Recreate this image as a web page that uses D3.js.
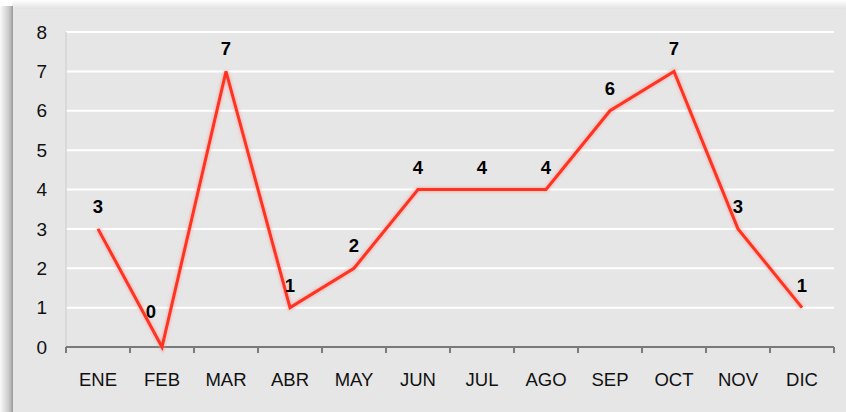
<!DOCTYPE html>
<html>
<head>
<meta charset="utf-8">
<style>
  body { margin: 0; background: #fff; }
  svg { display: block; font-family: Arial, "Liberation Sans", sans-serif; }
</style>
</head>
<body>
<div id="container"></div>
<script src="https://cdn.jsdelivr.net/npm/d3@7"></script>
<script>
// values
const months = ["ENE", "FEB", "MAR", "ABR", "MAY", "JUN", "JUL", "AGO", "SEP", "OCT", "NOV", "DIC"];
const counts = [3, 0, 7, 1, 2, 4, 4, 4, 6, 7, 3, 1];
const yTicks = [0, 1, 2, 3, 4, 5, 6, 7, 8];

const W = 846, H = 412;
const svg = d3.select("#container").append("svg")
    .attr("width", W)
    .attr("height", H);

const defs = svg.append("defs");
// left shadow of the panel
const lg = defs.append("linearGradient").attr("id", "shadowL");
lg.append("stop").attr("offset", "0%").attr("stop-color", "#fafafa");
lg.append("stop").attr("offset", "70%").attr("stop-color", "#c8c8c8");
lg.append("stop").attr("offset", "100%").attr("stop-color", "#9a9a9a");
const tg = defs.append("linearGradient").attr("id", "shadowT")
    .attr("x1", 0).attr("y1", 0).attr("x2", 0).attr("y2", 1);
tg.append("stop").attr("offset", "0%").attr("stop-color", "#ffffff");
tg.append("stop").attr("offset", "100%").attr("stop-color", "#e2e2e2");
const glow = defs.append("filter").attr("id", "glow")
    .attr("x", "-10%").attr("y", "-10%").attr("width", "120%").attr("height", "120%");
glow.append("feGaussianBlur").attr("stdDeviation", 1.5);

svg.append("rect").attr("x", 0).attr("y", 0).attr("width", W).attr("height", H).attr("fill", "#fff");
svg.append("rect").attr("x", 12).attr("y", 0).attr("width", W - 12).attr("height", 9).attr("fill", "url(#shadowT)");
svg.append("rect").attr("x", 0).attr("y", 6).attr("width", 13).attr("height", H - 6).attr("fill", "url(#shadowL)");
svg.append("rect").attr("x", 13).attr("y", 9).attr("width", W - 13).attr("height", H - 9).attr("fill", "#e6e6e7");

const margin = { left: 66, right: 834, top: 32, bottom: 347 };

const x = d3.scaleBand().domain(months).range([margin.left, margin.right]);
const y = d3.scaleLinear().domain([0, 8]).range([margin.bottom, margin.top]);

// gridlines
svg.append("g")
    .selectAll("line")
    .data(yTicks.filter(d => d > 0))
    .join("line")
    .attr("x1", margin.left)
    .attr("x2", margin.right)
    .attr("y1", d => y(d))
    .attr("y2", d => y(d))
    .attr("stroke", "#ffffff")
    .attr("stroke-width", 2);

// y axis line (faint)
svg.append("line")
    .attr("x1", margin.left).attr("x2", margin.left)
    .attr("y1", margin.top).attr("y2", margin.bottom)
    .attr("stroke", "#d4d4d4")
    .attr("stroke-width", 1.5);

// y tick labels
svg.append("g")
    .selectAll("text")
    .data(yTicks)
    .join("text")
    .attr("x", 47)
    .attr("y", d => y(d))
    .attr("dy", "0.35em")
    .attr("text-anchor", "end")
    .attr("font-size", 19)
    .attr("fill", "#111")
    .text(d => d);

// x axis with ticks at category boundaries
const xAxis = svg.append("g");
xAxis.append("line")
    .attr("x1", margin.left).attr("x2", margin.right)
    .attr("y1", margin.bottom).attr("y2", margin.bottom)
    .attr("stroke", "#7a7a7a")
    .attr("stroke-width", 2);
const bounds = months.map(m => x(m)).concat([margin.right]);
xAxis.selectAll("line.tick")
    .data(bounds)
    .join("line")
    .attr("class", "tick")
    .attr("x1", d => d).attr("x2", d => d)
    .attr("y1", margin.bottom).attr("y2", margin.bottom + 6)
    .attr("stroke", "#7a7a7a")
    .attr("stroke-width", 2);
xAxis.selectAll("text")
    .data(months)
    .join("text")
    .attr("x", d => x(d) + x.bandwidth() / 2)
    .attr("y", 380)
    .attr("dy", "0.35em")
    .attr("text-anchor", "middle")
    .attr("font-size", 18.5)
    .attr("fill", "#111")
    .text(d => d);

// line
const pts = months.map((m, i) => [x(m) + x.bandwidth() / 2, y(counts[i])]);
const line = d3.line();
svg.append("path")
    .attr("d", line(pts))
    .attr("fill", "none")
    .attr("stroke", "#ff8a80")
    .attr("stroke-width", 5)
    .attr("stroke-linejoin", "miter")
    .attr("opacity", 0.5)
    .attr("filter", "url(#glow)");
svg.append("path")
    .attr("d", line(pts))
    .attr("fill", "none")
    .attr("stroke", "#ff3322")
    .attr("stroke-width", 3)
    .attr("stroke-linejoin", "miter");

// data labels
svg.append("g")
    .selectAll("text")
    .data(months)
    .join("text")
    .attr("x", (d, i) => x(d) + x.bandwidth() / 2 + (counts[i] === 0 ? -11 : 0))
    .attr("y", (d, i) => y(counts[i]) - (counts[i] === 0 ? 29 : 16))
    .attr("text-anchor", "middle")
    .attr("font-size", 18.5)
    .attr("font-weight", "bold")
    .attr("fill", "#000")
    .text((d, i) => counts[i]);
</script>
</body>
</html>
